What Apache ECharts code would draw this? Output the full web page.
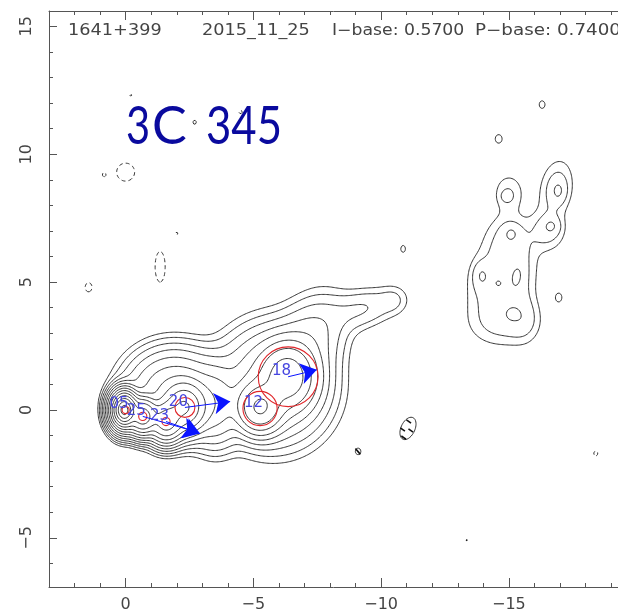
<!DOCTYPE html>
<html>
<head>
<meta charset="utf-8">
<script src="https://cdn.jsdelivr.net/npm/echarts@6/dist/echarts.min.js"></script>
<style>
  html, body { margin: 0; padding: 0; background: #ffffff; }
  #chart { width: 618px; height: 613px; }
</style>
</head>
<body>
<div id="chart"></div>
<script>
// Map extent in relative RA / Dec (mas)
const raMin = -19.27, raMax = 3.0;
const decMin = -6.92, decMax = 15.6;

// Contour levels, in units of the I-base level
const contourLevels = [-1, 1, 2, 4, 8, 16, 32, 64, 128, 256, 512, 1024, 2048, 4096, 8192];

// Brightness model components: [ra, dec, peak, major, minor, pa (deg), profile exponent]
const coreModel = [
  [0.05, 0.0, 14000, 0.22, 0.16, 0, 1.4]
];
const innerJetModel = [
  [-0.67, -0.25, 1500, 0.33, 0.28, 0, 2],
  [-1.58, -0.45, 700, 0.38, 0.32, 0, 2],
  [-2.30, 0.10, 500, 0.48, 0.42, 0, 2],
  [-1.90, 0.65, 70, 0.82, 0.90, 0, 2],
  [-3.50, 0.20, 40, 0.80, 0.50, 0, 2]
];
const outerJetModel = [
  [-5.25, 0.10, 260, 0.50, 0.45, 0, 2],
  [-6.35, 1.30, 180, 0.65, 0.55, 0, 2],
  [-5.80, 0.95, 45, 1.10, 1.05, 0, 2],
  [-7.20, 2.80, 10, 1.00, 0.70, -30, 2],
  [-9.25, 3.95, 4, 0.85, 0.45, -75, 2],
  [-10.50, 4.30, 1.6, 0.35, 0.35, 0, 2]
];
const plumeModel = [
  [-16.85, 8.65, 2.8, 0.75, 0.42, -10, 2],
  [-16.50, 7.00, 2.6, 0.50, 0.45, 0, 2],
  [-15.00, 8.50, 1.9, 0.50, 0.40, 0, 2],
  [-15.00, 6.60, 2.6, 0.70, 0.60, 0, 2],
  [-14.20, 5.00, 2.6, 0.90, 0.55, -10, 2],
  [-15.40, 5.00, 2.4, 0.90, 0.45, -10, 2],
  [-14.70, 3.40, 2.4, 0.60, 0.80, 0, 2],
  [-15.60, 3.60, 2.0, 0.60, 0.40, 0, 2],
  [-13.90, 5.27, 2.0, 0.35, 0.22, 0, 2],
  [-14.60, 4.95, 1.5, 0.15, 0.15, 0, 2],
  [-15.30, 5.20, 1.8, 0.30, 0.15, -10, 2],
  [-15.10, 3.77, 1.5, 0.15, 0.15, 0, 2],
  [-15.10, 6.94, 1.8, 0.25, 0.25, 0, 2],
  [-16.68, 7.20, 1.8, 0.22, 0.22, 0, 2],
  [-16.95, 8.55, 1.8, 0.30, 0.20, 0, 2],
  [-14.90, 8.35, 1.3, 0.15, 0.15, 0, 2]
];
const noiseModel = [
  [-16.30, 11.94, 1.25, 0.22, 0.17, 0, 2],
  [-14.60, 10.60, 1.25, 0.25, 0.20, 0, 2],
  [-16.95, 4.40, 1.25, 0.25, 0.18, 0, 2],
  [-10.86, 6.30, 1.20, 0.22, 0.15, 0, 2],
  [-9.10, -1.62, 1.20, 0.20, 0.17, 0, 2],
  [-11.05, -0.72, 1.6, 0.48, 0.28, -25, 2],
  [-2.70, 11.25, 1.10, 0.18, 0.15, 0, 2],
  [0.00, 9.30, -1.5, 0.39, 0.39, 0, 2],
  [0.85, 9.20, -1.1, 0.12, 0.10, 0, 2],
  [-1.35, 5.60, -1.4, 0.73, 0.24, 0, 2],
  [1.45, 4.80, -1.2, 0.30, 0.22, 0, 2],
  [-2.00, 6.90, -1.05, 0.15, 0.15, 0, 2],
  [-0.20, 12.30, -1.05, 0.12, 0.12, 0, 2],
  [-4.50, 11.65, -1.1, 0.15, 0.15, 0, 2],
  [-18.40, -1.70, -1.1, 0.22, 0.18, 0, 2]
];

// Model-fit components
const compIds = ['05', '25', '23', '20', '12', '18'];
const compRa = [0.0, -0.67, -1.58, -2.32, -5.26, -6.36];
const compDec = [0.0, -0.25, -0.45, 0.10, 0.06, 1.30];
const compSize = [0.14, 0.16, 0.16, 0.39, 0.67, 1.17];

// Velocity vectors: start component and arrow tip
const vecIds = ['25', '23', '20', '18'];
const vecTipRa = [-2.86, -2.91, -4.09, -7.48];
const vecTipDec = [-0.88, -0.92, 0.33, 1.57];

// Polarization sticks
const stickRa = [-10.84, -11.08, -11.16, -10.88, -9.09, -13.35];
const stickDec = [-0.76, -0.45, -0.80, -1.08, -1.62, -5.09];
const stickLen = [0.22, 0.22, 0.22, 0.22, 0.30, 0.06];
const stickAng = [35, 35, 35, 35, 50, 35];

// ---------------------------------------------------------------------------
// Brightness grid
const step = 0.05;
const nx = Math.round((raMax - raMin) / step) + 1;
const ny = Math.round((decMax - decMin) / step) + 1;

function buildField(models) {
  const f = new Float64Array(nx * ny);
  for (const m of models) {
    const [cx, cy, amp, a, b, pa, p] = m;
    const r = Math.PI * pa / 180, s = Math.sin(r), c = Math.cos(r);
    const dmax = Math.pow(p * Math.log(Math.abs(amp) / 0.002), 1 / p);
    const ext = dmax * Math.max(a, b);
    const i0 = Math.max(0, Math.floor((cx - ext - raMin) / step));
    const i1 = Math.min(nx - 1, Math.ceil((cx + ext - raMin) / step));
    const j0 = Math.max(0, Math.floor((cy - ext - decMin) / step));
    const j1 = Math.min(ny - 1, Math.ceil((cy + ext - decMin) / step));
    for (let j = j0; j <= j1; j++) {
      const dy = decMin + j * step - cy;
      for (let i = i0; i <= i1; i++) {
        const dx = raMin + i * step - cx;
        const u = (dx * s + dy * c) / a;
        const v = (dx * c - dy * s) / b;
        const d2 = u * u + v * v;
        const val = p === 2 ? Math.exp(-d2 / 2) : Math.exp(-Math.pow(d2, p / 2) / p);
        f[j * nx + i] += amp * val;
      }
    }
  }
  return f;
}

// Marching squares with segment chaining into polylines
function traceLevel(f, lev) {
  const segA = [], segB = [];
  const at = (i, j) => f[j * nx + i];
  const add = (p, q) => { segA.push(p); segB.push(q); };
  for (let j = 0; j < ny - 1; j++) {
    for (let i = 0; i < nx - 1; i++) {
      const a = at(i, j), b = at(i + 1, j), c = at(i + 1, j + 1), d = at(i, j + 1);
      const k = (a > lev ? 1 : 0) | (b > lev ? 2 : 0) | (c > lev ? 4 : 0) | (d > lev ? 8 : 0);
      if (k === 0 || k === 15) continue;
      const B = (j * nx + i) * 2, T = ((j + 1) * nx + i) * 2;
      const L = (j * nx + i) * 2 + 1, R = (j * nx + i + 1) * 2 + 1;
      const centre = (a + b + c + d) / 4;
      switch (k) {
        case 1: case 14: add(L, B); break;
        case 2: case 13: add(B, R); break;
        case 3: case 12: add(L, R); break;
        case 4: case 11: add(R, T); break;
        case 6: case 9: add(B, T); break;
        case 7: case 8: add(L, T); break;
        case 5:
          if (centre > lev) { add(B, R); add(T, L); } else { add(L, B); add(R, T); }
          break;
        case 10:
          if (centre > lev) { add(L, B); add(R, T); } else { add(B, R); add(T, L); }
          break;
      }
    }
  }
  const pt = (key) => {
    const cell = key >> 1;
    const i = cell % nx, j = (cell - i) / nx;
    if (key & 1) {
      const v0 = at(i, j), v1 = at(i, j + 1);
      const t = (lev - v0) / (v1 - v0);
      return [raMin + i * step, decMin + (j + t) * step];
    }
    const v0 = at(i, j), v1 = at(i + 1, j);
    const t = (lev - v0) / (v1 - v0);
    return [raMin + (i + t) * step, decMin + j * step];
  };
  const adj = new Map();
  const link = (key, s) => { const l = adj.get(key); if (l) l.push(s); else adj.set(key, [s]); };
  for (let s = 0; s < segA.length; s++) { link(segA[s], s); link(segB[s], s); }
  const used = new Uint8Array(segA.length);
  const walk = (start, from) => {
    const out = [];
    let cur = from;
    while (true) {
      const l = adj.get(cur);
      let nxt = -1;
      for (const t of l) if (!used[t]) { nxt = t; break; }
      if (nxt < 0) break;
      used[nxt] = 1;
      cur = segA[nxt] === cur ? segB[nxt] : segA[nxt];
      out.push(cur);
      if (cur === start) break;
    }
    return out;
  };
  const lines = [];
  for (let s = 0; s < segA.length; s++) {
    if (used[s]) continue;
    used[s] = 1;
    const fwd = walk(segA[s], segB[s]);
    const closed = fwd.length && fwd[fwd.length - 1] === segA[s];
    const back = closed ? [] : walk(segB[s], segA[s]);
    const keys = back.reverse().concat([segA[s], segB[s]], fwd);
    lines.push({ coords: keys.map(pt) });
  }
  return lines;
}

const field = buildField([].concat(coreModel, innerJetModel, outerJetModel, plumeModel, noiseModel));
const positiveLines = [], negativeLines = [];
for (const lev of contourLevels) {
  const ls = traceLevel(field, lev);
  if (lev < 0) negativeLines.push(...ls); else positiveLines.push(...ls);
}

// ---------------------------------------------------------------------------
const compData = compIds.map((id, k) => [compRa[k], compDec[k], compSize[k], id]);
const vecData = vecIds.map((id, k) => {
  const c = compIds.indexOf(id);
  return { coords: [[compRa[c], compDec[c]], [vecTipRa[k], vecTipDec[k]]] };
});
const stickData = stickRa.map((ra, k) => {
  const r = Math.PI * stickAng[k] / 180, h = stickLen[k] / 2;
  return { coords: [[ra - h * Math.cos(r), stickDec[k] - h * Math.sin(r)], [ra + h * Math.cos(r), stickDec[k] + h * Math.sin(r)]] };
});

const axisColor = '#555555';
const labelFont = 'DejaVu Sans';
const fmt = (v) => (Math.abs(v % 5) < 1e-9 ? (v < 0 ? '\u2212' + (-v) : String(v)) : '');

const chart = echarts.init(document.getElementById('chart'), null, { renderer: 'canvas' });
chart.setOption({
  animation: false,
  backgroundColor: '#ffffff',
  grid: { left: 49, top: 11, right: 0, height: 578, containLabel: false },
  xAxis: [
    {
      type: 'value', min: raMin, max: raMax, inverse: true, position: 'bottom', splitNumber: 5,
      axisLine: { show: true, onZero: false, lineStyle: { color: axisColor, width: 1 } },
      axisTick: { show: true, inside: true, length: 9, lineStyle: { color: axisColor } },
      minorTick: { show: true, splitNumber: 5, length: 4, lineStyle: { color: axisColor } },
      axisLabel: { formatter: fmt, color: '#444', fontSize: 16, fontFamily: labelFont, margin: 10,
                   showMinLabel: false, showMaxLabel: false },
      splitLine: { show: false }
    },
    {
      type: 'value', min: raMin, max: raMax, inverse: true, position: 'top', splitNumber: 5,
      axisLine: { show: true, onZero: false, lineStyle: { color: axisColor, width: 1 } },
      axisTick: { show: true, inside: true, length: 9, lineStyle: { color: axisColor } },
      minorTick: { show: true, splitNumber: 5, length: 4, lineStyle: { color: axisColor } },
      axisLabel: { show: false },
      splitLine: { show: false }
    }
  ],
  yAxis: [
    {
      type: 'value', min: decMin, max: decMax, position: 'left', splitNumber: 5,
      axisLine: { show: true, onZero: false, lineStyle: { color: axisColor, width: 1 } },
      axisTick: { show: true, inside: true, length: 8, lineStyle: { color: axisColor } },
      minorTick: { show: true, splitNumber: 5, length: 4, lineStyle: { color: axisColor } },
      axisLabel: { formatter: fmt, color: '#444', fontSize: 16, fontFamily: labelFont, margin: 14,
                   rotate: 90, showMinLabel: false, showMaxLabel: false },
      splitLine: { show: false }
    }
  ],
  series: [
    {
      type: 'lines', coordinateSystem: 'cartesian2d', polyline: true, silent: true,
      progressive: 0, large: false, clip: true,
      lineStyle: { color: '#1e1e1e', width: 0.9, opacity: 1 },
      data: positiveLines
    },
    {
      type: 'lines', coordinateSystem: 'cartesian2d', polyline: true, silent: true,
      progressive: 0, large: false, clip: true,
      lineStyle: { color: '#1e1e1e', width: 0.9, opacity: 1, type: [4, 3] },
      data: negativeLines
    },
    {
      type: 'lines', coordinateSystem: 'cartesian2d', silent: true, progressive: 0,
      lineStyle: { color: '#111', width: 1.6, opacity: 1 },
      data: stickData
    },
    {
      type: 'custom', coordinateSystem: 'cartesian2d', silent: true, clip: true,
      data: compData,
      renderItem: (params, api) => {
        const c = api.coord([api.value(0), api.value(1)]);
        const r = Math.abs(api.size([api.value(2), 0])[0]);
        return { type: 'circle', shape: { cx: c[0], cy: c[1], r: r },
                 style: { fill: 'none', stroke: '#e0262a', lineWidth: 1.1 } };
      }
    },
    {
      type: 'lines', coordinateSystem: 'cartesian2d', silent: true, progressive: 0,
      symbol: ['none', 'arrow'], symbolSize: [11, 16],
      lineStyle: { color: '#0a14ff', width: 1, opacity: 1 },
      data: vecData
    },
    {
      type: 'custom', coordinateSystem: 'cartesian2d', silent: true, clip: true,
      data: compData,
      renderItem: (params, api) => {
        const c = api.coord([api.value(0), api.value(1)]);
        return { type: 'text', x: c[0] + 3, y: c[1] + 2,
                 style: { text: compIds[params.dataIndex], fill: '#4646e0', font: '15px "DejaVu Sans"',
                          align: 'right', verticalAlign: 'bottom' } };
      }
    }
  ],
  graphic: [
    { type: 'text', x: 68, y: 31, style: { text: '1641+399', fill: '#444', font: '15px "DejaVu Sans"', verticalAlign: 'middle' }, scaleX: 1.18 },
    { type: 'text', x: 202, y: 31, style: { text: '2015_11_25', fill: '#444', font: '15px "DejaVu Sans"', verticalAlign: 'middle' }, scaleX: 1.18 },
    { type: 'text', x: 332, y: 31, style: { text: 'I\u2212base: 0.5700', fill: '#444', font: '15px "DejaVu Sans"', verticalAlign: 'middle' }, scaleX: 1.15 },
    { type: 'text', x: 475, y: 31, style: { text: 'P\u2212base: 0.7400', fill: '#444', font: '15px "DejaVu Sans"', verticalAlign: 'middle' }, scaleX: 1.22 },
    { type: 'text', x: 126, y: 127, style: { text: '3', fill: '#0a0a9e', font: '52px Lato', verticalAlign: 'middle' }, scaleX: 0.8 },
    { type: 'text', x: 152, y: 127, style: { text: 'C', fill: '#0a0a9e', font: '52px Lato', verticalAlign: 'middle' } },
    { type: 'text', x: 206, y: 127, style: { text: '345', fill: '#0a0a9e', font: '52px Lato', verticalAlign: 'middle' }, scaleX: 0.84 }
  ]
});
</script>
</body>
</html>
